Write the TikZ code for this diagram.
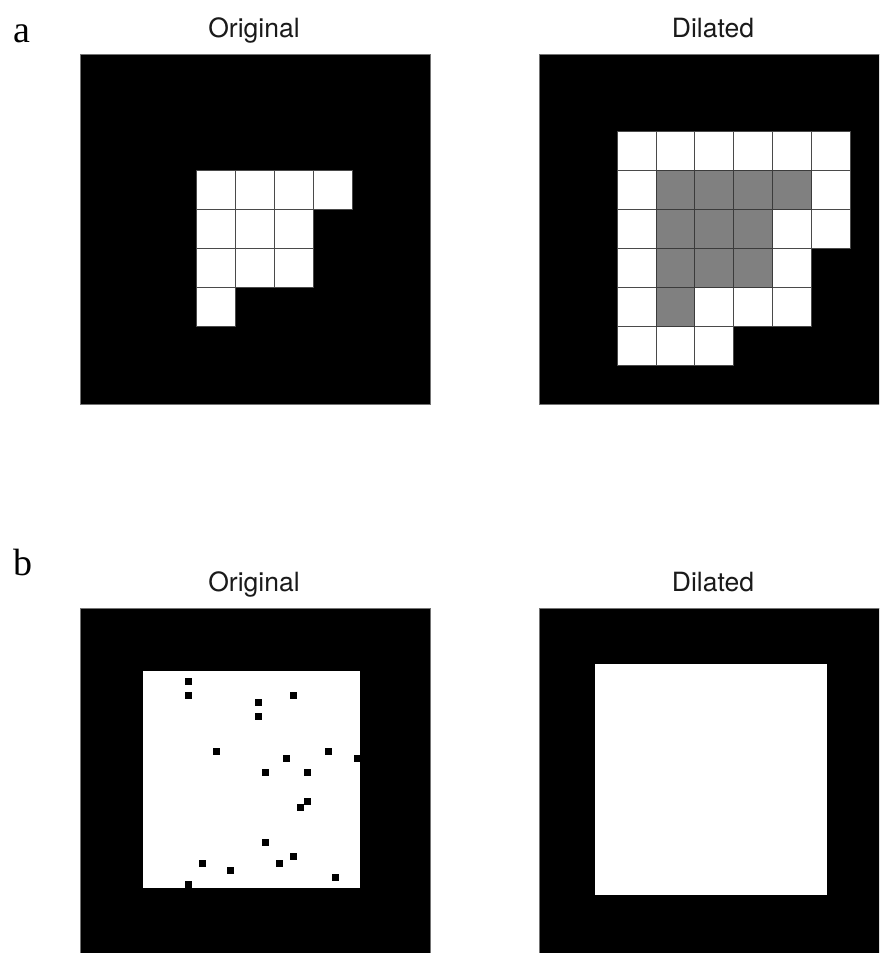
\documentclass[tikz,border=0pt]{standalone}
\usepackage{fontspec}
\setmainfont{Liberation Serif}
\newfontfamily\titlefont{TeX Gyre Heros}
\definecolor{txtc}{HTML}{1A1A1A}
\definecolor{gridc}{HTML}{4A4A4A}
\definecolor{midgray}{HTML}{808080}
\begin{document}
\begin{tikzpicture}[x=1pt,y=-1pt,
  blackbox/.style={fill=black,draw=black!55,line width=0.7pt},
  cellw/.style={fill=white,draw=gridc,line width=0.9pt},
  cellg/.style={fill=midgray,draw=gridc!80!black,line width=0.9pt},
  title/.style={font=\titlefont\fontsize{26.5}{30}\selectfont,text=txtc,anchor=base,inner sep=0pt},
  panel/.style={font=\fontsize{38}{40}\selectfont,anchor=base west,inner sep=0pt},
  dot/.style={fill=black}]
\useasboundingbox (0,0) rectangle (879,953);
\def\cs{38.89}
\begin{scope}
\clip (0,0) rectangle (879,953);
% ---------- panel a ----------
\node[panel] (la) at (13,42) {a};
\node[title] (ta1) at (254,37.5) {Original};
\node[title] (ta2) at (713,37.5) {Dilated};
\draw[blackbox] (80,54) rectangle ++(350,350);
\draw[blackbox] (539.3,54) rectangle ++(350,350);
% original shape
\foreach \r/\c in {3/3,3/4,3/5,3/6,4/3,4/4,4/5,5/3,5/4,5/5,6/3}
  \draw[cellw] ({80+\c*\cs},{54+\r*\cs}) rectangle ++(\cs,\cs);
% dilated shape: white cells
\foreach \r/\c in {2/2,2/3,2/4,2/5,2/6,2/7,
                   3/2,3/7,
                   4/2,4/6,4/7,
                   5/2,5/6,
                   6/2,6/4,6/5,6/6,
                   7/2,7/3,7/4}
  \draw[cellw] ({539.3+\c*\cs},{54+\r*\cs}) rectangle ++(\cs,\cs);
% dilated shape: gray (original) cells
\foreach \r/\c in {3/3,3/4,3/5,3/6,4/3,4/4,4/5,5/3,5/4,5/5,6/3}
  \draw[cellg] ({539.3+\c*\cs},{54+\r*\cs}) rectangle ++(\cs,\cs);
% ---------- panel b ----------
\node[panel] (lb) at (13,575) {b};
\node[title] (tb1) at (254,591.5) {Original};
\node[title] (tb2) at (713,591.5) {Dilated};
\draw[blackbox] (80,608) rectangle ++(350,350);
\draw[blackbox] (539.3,608) rectangle ++(350,350);
\fill[white] (142.7,671.3) rectangle (360.3,887.7);
\foreach \x/\y in {188.7/681.7,188.7/695.7,293/695.7,258/702.7,258/716.7,
                   216.7/751,328/751,286/758,357/758,265.3/772,307/772,
                   307/801,300/807.3,265.3/842.3,293/856.7,202.3/863.3,
                   279.3/863.3,230.3/870.3,335/877.3,188.7/884}
  \fill[dot] ({\x-3.5},{\y-3.5}) rectangle ++(7,7);
\fill[white] (595.3,663.7) rectangle (826.7,894.7);
\end{scope}
\end{tikzpicture}
\end{document}
